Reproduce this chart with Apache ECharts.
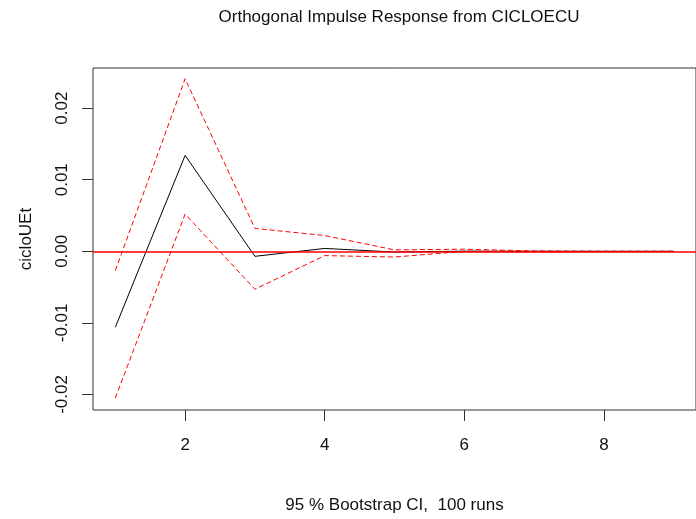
<!DOCTYPE html>
<html>
<head>
<meta charset="utf-8">
<script src="https://cdn.jsdelivr.net/npm/echarts@6/dist/echarts.min.js"></script>
<style>
html,body{margin:0;padding:0;background:#fff;}
#c{width:696px;height:519px;}
</style>
</head>
<body>
<div id="c"></div>
<script>
// Horizon steps
var steps = [1, 2, 3, 4, 5, 6, 7, 8, 9];
// Orthogonal impulse response of cicloUEt
var irf = [-0.0106, 0.0134, -0.0007, 0.0004, -0.0001, 0.00002, 0.00001, 0.0, 0.0];
// 95% bootstrap bounds
var upper = [-0.0027, 0.0241, 0.0032, 0.0022, 0.0002, 0.0003, 0.00005, 0.00002, 0.00001];
var lower = [-0.0205, 0.0052, -0.0053, -0.0006, -0.0008, 0.0000, -0.00008, -0.00002, -0.00001];
// Tick labels
var xTicks = [2, 4, 6, 8];
var yTicks = [-0.02, -0.01, 0.00, 0.01, 0.02];
// Reference level
var zeroLevel = 0;

function pairs(xs, ys) { return xs.map(function (x, i) { return [x, ys[i]]; }); }

var font = '"Liberation Sans", Arial, sans-serif';
var chart = echarts.init(document.getElementById('c'), null, {renderer: 'canvas'});
chart.setOption({
  animation: false,
  backgroundColor: '#ffffff',
  title: {
    text: 'Orthogonal Impulse Response from CICLOECU',
    left: 394, top: 4, textAlign: 'center',
    textStyle: {fontFamily: font, fontSize: 17, fontWeight: 'normal', color: '#111'}
  },
  grid: {
    left: 93, top: 68, width: 611, height: 344,
    show: true, borderColor: '#333', borderWidth: 1, backgroundColor: 'transparent'
  },
  xAxis: {
    type: 'value', min: 0.68, max: 9.32,
    name: '95 % Bootstrap CI,  100 runs', nameLocation: 'middle', nameGap: 87,
    nameTextStyle: {fontFamily: font, fontSize: 17, color: '#111'},
    axisLine: {show: false, onZero: false},
    axisTick: {show: true, inside: false, length: 11, customValues: xTicks, lineStyle: {color: '#333'}},
    axisLabel: {customValues: xTicks, margin: 27, fontFamily: font, fontSize: 17, color: '#111'},
    splitLine: {show: false}
  },
  yAxis: {
    type: 'value', min: -0.02217, max: 0.02561,
    name: 'cicloUEt', nameLocation: 'middle', nameGap: 58, nameRotate: 90,
    nameTextStyle: {fontFamily: font, fontSize: 17, color: '#111'},
    axisLine: {show: false, onZero: false},
    axisTick: {show: true, inside: false, length: 11, customValues: yTicks, lineStyle: {color: '#333'}},
    axisLabel: {
      customValues: yTicks, rotate: 90, margin: 22, fontFamily: font, fontSize: 17, color: '#111',
      formatter: function (v) { return v.toFixed(2); }
    },
    splitLine: {show: false}
  },
  series: [
    {
      name: 'irf', type: 'line', data: pairs(steps, irf), symbol: 'none',
      lineStyle: {color: '#000', width: 1}, z: 2
    },
    {
      name: 'upper', type: 'line', data: pairs(steps, upper), symbol: 'none',
      lineStyle: {color: '#ff0000', width: 1, type: [5, 3]}, z: 3
    },
    {
      name: 'lower', type: 'line', data: pairs(steps, lower), symbol: 'none',
      color: '#ff0000',
      lineStyle: {color: '#ff0000', width: 1, type: [5, 3]}, z: 4,
      markLine: {
        silent: true, symbol: ['none', 'none'], label: {show: false},
        lineStyle: {color: '#ff0000', width: 1.5, type: 'solid', opacity: 1},
        data: [{yAxis: zeroLevel}]
      }
    }
  ]
});
</script>
</body>
</html>
